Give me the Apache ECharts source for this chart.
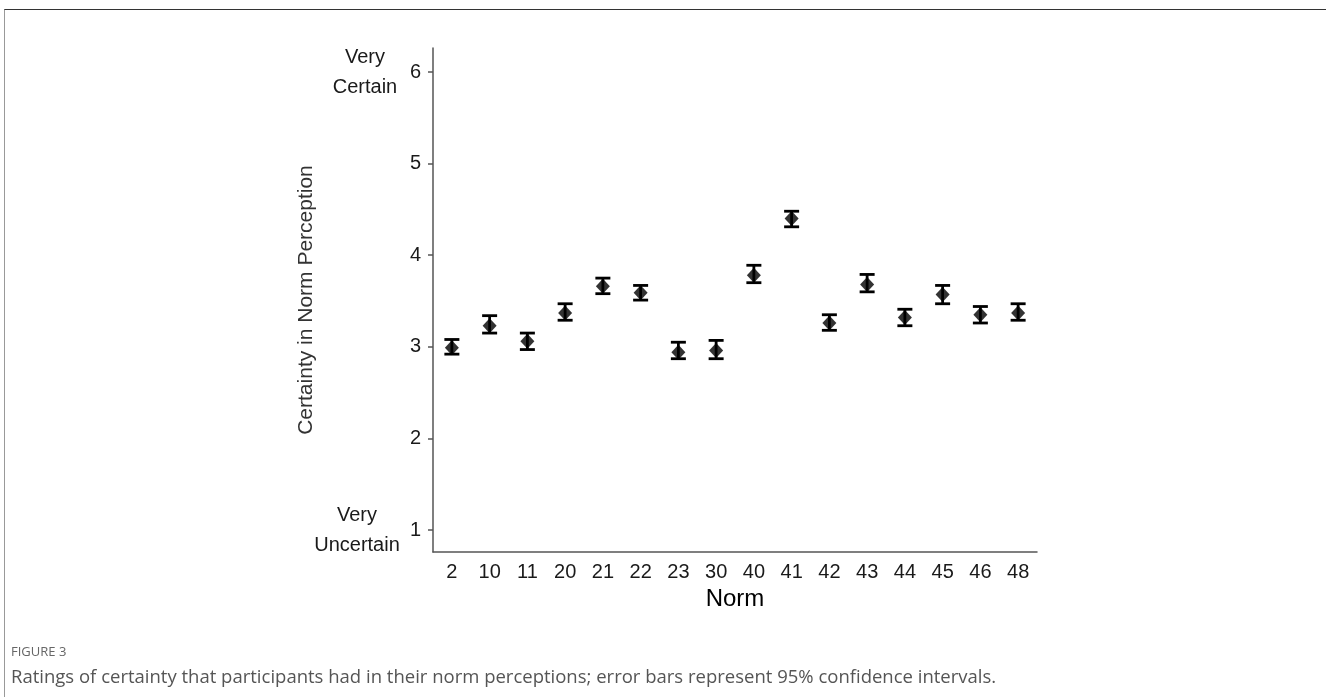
<!DOCTYPE html>
<html>
<head>
<meta charset="utf-8">
<script src="https://cdn.jsdelivr.net/npm/echarts@6/dist/echarts.min.js"></script>
<style>
  html, body { margin: 0; padding: 0; background: #fff; }
  #chart { width: 1326px; height: 697px; }
  .frame { position: absolute; left: 4px; top: 9px; right: 0; bottom: 0;
           border-top: 1px solid #333; border-left: 1px solid #999; pointer-events: none; }
</style>
</head>
<body>
<div id="chart"></div>
<div class="frame"></div>
<script>
// 各规范的确定性评分（均值与95%置信区间）
const norms = ['2', '10', '11', '20', '21', '22', '23', '30', '40', '41', '42', '43', '44', '45', '46', '48']
const means = [2.99, 3.23, 3.06, 3.37, 3.66, 3.59, 2.94, 2.96, 3.78, 4.40, 3.26, 3.68, 3.32, 3.57, 3.35, 3.37]
const lower = [2.92, 3.15, 2.97, 3.29, 3.58, 3.51, 2.87, 2.87, 3.70, 4.31, 3.18, 3.60, 3.23, 3.47, 3.26, 3.29]
const upper = [3.08, 3.34, 3.15, 3.47, 3.75, 3.67, 3.05, 3.07, 3.89, 4.48, 3.35, 3.79, 3.41, 3.67, 3.44, 3.47]
const yTicks = [1, 2, 3, 4, 5, 6]

const font = '"Liberation Sans", Arial, sans-serif'
const yMin = 0.76
const yMax = 6.262

const chart = echarts.init(document.getElementById('chart'))

const errData = norms.map((n, i) => [i, lower[i], upper[i]])

chart.setOption({
  animation: false,
  grid: { left: 433, width: 604, top: 48, bottom: 145 },
  xAxis: {
    type: 'category',
    data: norms,
    boundaryGap: true,
    name: 'Norm',
    nameLocation: 'middle',
    nameGap: 35,
    nameTextStyle: { color: '#000', fontSize: 24, fontFamily: font },
    axisLine: { lineStyle: { color: '#555', width: 1.5 } },
    axisTick: { alignWithLabel: true, length: 5, lineStyle: { color: '#555', width: 1.5 } },
    axisLabel: { color: '#1a1a1a', fontSize: 20, fontFamily: font, margin: 10 },
    splitLine: { show: false }
  },
  yAxis: [
    {
      type: 'value',
      position: 'left',
      min: yMin,
      max: yMax,
      name: 'Certainty in Norm Perception',
      nameLocation: 'middle',
      nameGap: 116,
      nameTextStyle: { color: '#333', fontSize: 21, fontFamily: font },
      axisLine: { show: true, lineStyle: { color: '#555', width: 1.5 } },
      axisTick: { show: true, length: 5, customValues: yTicks, lineStyle: { color: '#555', width: 1.5 } },
      axisLabel: { color: '#1a1a1a', fontSize: 20, fontFamily: font, margin: 12, customValues: yTicks },
      splitLine: { show: false }
    },
    {
      // "Very Certain" 标签
      type: 'value',
      position: 'left',
      offset: 0,
      min: yMin,
      max: yMax,
      axisLine: { show: false },
      axisTick: { show: false },
      splitLine: { show: false },
      axisLabel: {
        customValues: [6],
        formatter: () => 'Very\nCertain',
        align: 'center',
        margin: 68,
        lineHeight: 30,
        color: '#1a1a1a', fontSize: 20, fontFamily: font
      }
    },
    {
      // "Very Uncertain" 标签
      type: 'value',
      position: 'left',
      offset: 0,
      min: yMin,
      max: yMax,
      axisLine: { show: false },
      axisTick: { show: false },
      splitLine: { show: false },
      axisLabel: {
        customValues: [1],
        formatter: () => 'Very\nUncertain',
        align: 'center',
        margin: 76,
        lineHeight: 30,
        color: '#1a1a1a', fontSize: 20, fontFamily: font
      }
    }
  ],
  series: [
    {
      type: 'custom',
      data: errData,
      encode: { x: 0, y: [1, 2] },
      renderItem: function (params, api) {
        const x = api.value(0)
        const lo = api.coord([x, api.value(1)])
        const hi = api.coord([x, api.value(2)])
        const half = 7.5
        const style = { stroke: '#000', lineWidth: 2.8, fill: null }
        return {
          type: 'group',
          children: [
            { type: 'line', shape: { x1: hi[0], y1: hi[1], x2: lo[0], y2: lo[1] }, style: style },
            { type: 'line', shape: { x1: hi[0] - half, y1: hi[1], x2: hi[0] + half, y2: hi[1] }, style: style },
            { type: 'line', shape: { x1: lo[0] - half, y1: lo[1], x2: lo[0] + half, y2: lo[1] }, style: style }
          ]
        }
      },
      z: 2
    },
    {
      type: 'scatter',
      data: means,
      symbol: 'diamond',
      symbolSize: [14, 15],
      itemStyle: { color: '#000' },
      z: 3
    }
  ],
  graphic: [
    {
      type: 'text', left: 11, top: 646,
      style: { text: 'FIGURE 3', fill: '#666', fontSize: 13, fontFamily: '"Open Sans", sans-serif' }
    },
    {
      type: 'text', left: 11, top: 668,
      style: {
        text: 'Ratings of certainty that participants had in their norm perceptions; error bars represent 95% confidence intervals.',
        fill: '#555', fontSize: 18.5, fontFamily: '"Open Sans", sans-serif'
      }
    }
  ]
})
</script>
</body>
</html>
